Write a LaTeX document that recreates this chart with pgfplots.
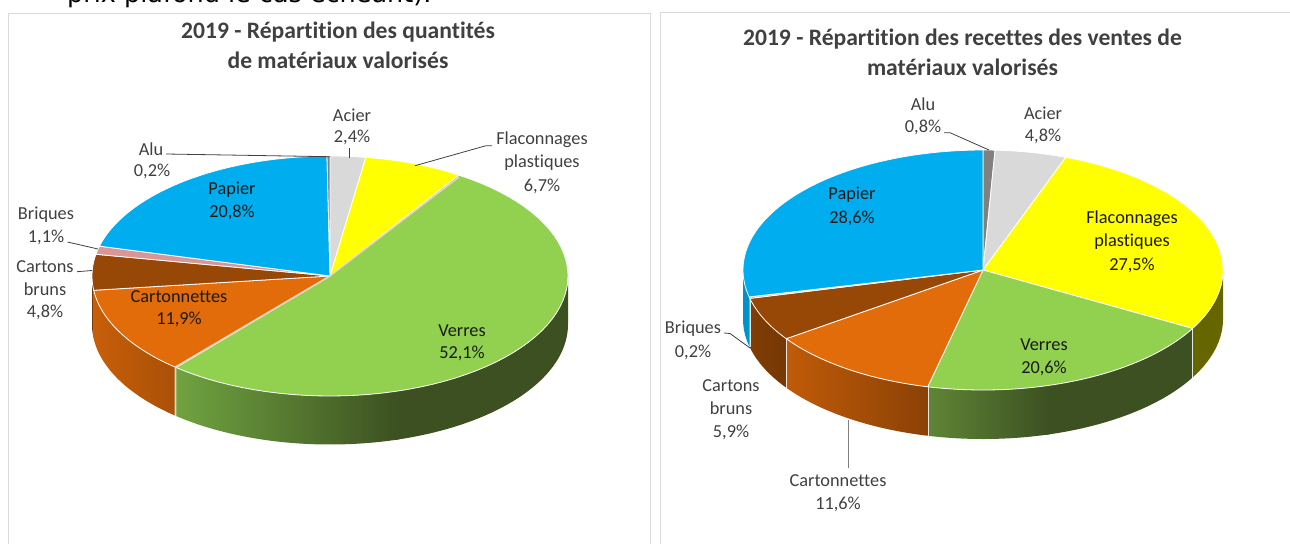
\documentclass[border=0pt]{standalone}
\usepackage{pgfplots}
\pgfplotsset{compat=1.18}
\usepackage{fontspec}
\setmainfont[Ligatures=NoCommon]{Carlito}
\newfontfamily\topfont{DejaVu Sans}
\definecolor{cPap}{HTML}{00ADEF}
\definecolor{cVer}{HTML}{92D050}
\definecolor{cFla}{HTML}{FFFF00}
\definecolor{cCto}{HTML}{E26B0A}
\definecolor{cCbr}{HTML}{974706}
\definecolor{cBri}{HTML}{D99694}
\definecolor{cAci}{HTML}{D9D9D9}
\definecolor{cAlu}{HTML}{808080}
\definecolor{cTxt}{HTML}{404040}
\definecolor{cIn}{HTML}{1A1A1A}
\definecolor{cBord}{HTML}{D9D9D9}
\definecolor{cBeige}{HTML}{E3D6BE}
\definecolor{cEdge}{HTML}{E6E6E6}
\definecolor{vDark}{HTML}{3C5021}
\definecolor{vLightA}{HTML}{70A340}
\definecolor{vLightB}{HTML}{5F8536}
% top of a slice: #1 cx, #2 cy, #3 rx, #4 ry, #5 from (cumulated %), #6 to (cumulated %), #7 colour
\newcommand\slice[7]{%
  \addplot[fill=#7,draw=white,line width=0.8pt,line join=round,domain=#5:2*#6-#5,samples=121,variable=\t]
  ({#1+(\t>#6+(#6-#5)/120?0:1)*#3*sin(3.6*\t)},{#2-(\t>#6+(#6-#5)/120?0:1)*#4*cos(3.6*\t)}) -- cycle;}
% wall of a slice: #5 depth, #6 from, #7 to, #8 style
\newcommand\wall[8]{%
  \addplot[#8,draw=none,domain=#6:2*#7-#6,samples=121,variable=\t]
  ({#1+#3*sin(3.6*(\t>#7+(#7-#6)/120?#6+(2*#7-\t-#6)*60/59:\t))},
   {#2-#4*cos(3.6*(\t>#7+(#7-#6)/120?#6+(2*#7-\t-#6)*60/59:\t))+(\t>#7+(#7-#6)/120?#5:0)}) -- cycle;}
\newcommand\lab[4][cTxt]{\node[text=#1,anchor=center,inner sep=0pt,font=\fontsize{18.3}{22}\selectfont] at (axis cs:#2,#3) {#4};}
\begin{document}
\begin{tikzpicture}
\path[use as bounding box,clip] (0,0) rectangle (1290pt,544pt);
\begin{axis}[anchor=south west,at={(0,0)},scale only axis,width=1290pt,height=544pt,
  xmin=0,xmax=1290,ymin=0,ymax=544,y dir=reverse,axis lines=none,clip=false]
% top text
\node[anchor=base west,inner sep=0pt,text=black,font=\topfont\fontsize{25.5}{28}\selectfont] at (axis cs:67,2.5) {prix plafond le cas échéant).};
% panels
\addplot[cBord,line width=1pt] coordinates {(8,544) (8,13.5) (650.5,13.5) (650.5,544)};
\addplot[cBord,line width=1pt] coordinates {(660.5,544) (660.5,12.5) (1290,12.5)};
% ---------- left pie : cumulated shares, Acier 2.4, Flaconnages 6.7, Verres 52.1, Cartonnettes 11.9, Cartons bruns 4.8, Briques 1.1, Papier 20.8, Alu 0.2
\wall{330}{276}{238}{120}{48.5}{25}{45.6}{fill=vDark}
\wall{330}{276}{238}{120}{48.5}{45.3}{61.2}{left color=vLightA,right color=vDark}
\wall{330}{276}{238}{120}{48.5}{61.2}{73.1}{left color=cCto!88!black,right color=cCto!75!black}
\wall{330}{276}{238}{120}{48.5}{73.1}{75}{fill=cCbr!80!black}
\slice{330}{276}{238}{120}{0}{2.4}{cAci}
\slice{330}{276}{238}{120}{2.4}{9.1}{cFla}
\slice{330}{276}{238}{120}{9.1}{61.2}{cVer}
\slice{330}{276}{238}{120}{61.2}{73.1}{cCto}
\slice{330}{276}{238}{120}{73.1}{77.9}{cCbr}
\slice{330}{276}{238}{120}{77.9}{79}{cBri}
\slice{330}{276}{238}{120}{79}{99.8}{cPap}
\slice{330}{276}{238}{120}{99.8}{100}{cAlu}
\addplot[cBeige,line width=1.6pt] coordinates {(330,276) (175.5,367) (175.5,416)};
\addplot[cBeige,line width=1.4pt] coordinates {(330,276) (459,177)};
% leaders
\addplot[cTxt,line width=0.8pt] coordinates {(166,154) (330,156.7)};
\addplot[cTxt,line width=0.8pt] coordinates {(67.5,242) (98,249)};
\addplot[cTxt,line width=0.8pt] coordinates {(77,271.7) (92,270.5)};
\addplot[cTxt,line width=0.8pt] coordinates {(349.5,148) (349.5,158)};
\addplot[cTxt,line width=0.8pt] coordinates {(492,145.7) (486,145.7) (415,165.7)};
% labels
\node[text=cTxt,align=center,inner sep=0pt,font=\bfseries\fontsize{23.6}{30}\selectfont] at (axis cs:338,45) {2019 - Répartition des quantités\\de matériaux valorisés};
\lab{151}{149}{Alu}\lab{152}{171}{0,2\%}
\lab[cIn]{232}{190}{Papier}\lab[cIn]{232}{212}{20,8\%}
\lab{46}{215}{Briques}\lab{46}{237}{1,1\%}
\lab{45}{267}{Cartons}\lab{45}{289}{bruns}\lab{45}{312}{4,8\%}
\lab{352}{115}{Acier}\lab{352}{137}{2,4\%}
\lab{542}{140}{Flaconnages}\lab{542}{163}{plastiques}\lab{542}{186}{6,7\%}
\lab[cIn]{179}{297}{Cartonnettes}\lab[cIn]{179}{319}{11,9\%}
\lab[cIn]{462}{331}{Verres}\lab[cIn]{462}{353}{52,1\%}
% ---------- right pie : cumulated shares, Alu 0.8, Acier 4.8, Flaconnages 27.5, Verres 20.6, Cartonnettes 11.6, Cartons bruns 5.9, Briques 0.2, Papier 28.6
\wall{983}{270}{240}{120}{49}{25}{33.1}{fill=cFla!40!black}
\wall{983}{270}{240}{120}{49}{33.1}{45.8}{fill=vDark}
\wall{983}{270}{240}{120}{49}{45.5}{53.7}{left color=vLightB,right color=vDark}
\wall{983}{270}{240}{120}{49}{53.7}{65.3}{left color=cCto!85!black,right color=cCbr!92!black}
\wall{983}{270}{240}{120}{49}{65.3}{71.2}{left color=cCbr!85!black,right color=cCbr!78!black}
\wall{983}{270}{240}{120}{49}{71.2}{71.4}{fill=cBri}
\wall{983}{270}{240}{120}{49}{71.4}{75}{fill=cPap!85!black}
\addplot[cEdge,line width=0.8pt] coordinates {(1192.6,328.5) (1192.6,377.5)};
\addplot[cEdge,line width=0.8pt] coordinates {(928,387) (928,436)};
\addplot[cEdge,line width=0.8pt] coordinates {(786.5,339) (786.5,388)};
\addplot[cEdge,line width=0.8pt] coordinates {(750,298.4) (750,347)};
\slice{983}{270}{240}{120}{0}{0.8}{cAlu}
\slice{983}{270}{240}{120}{0.8}{5.6}{cAci}
\slice{983}{270}{240}{120}{5.6}{33.1}{cFla}
\slice{983}{270}{240}{120}{33.1}{53.7}{cVer}
\slice{983}{270}{240}{120}{53.7}{65.3}{cCto}
\slice{983}{270}{240}{120}{65.3}{71.2}{cCbr}
\slice{983}{270}{240}{120}{71.2}{71.4}{cBri}
\slice{983}{270}{240}{120}{71.4}{100}{cPap}
% leaders
\addplot[cTxt,line width=0.8pt] coordinates {(944,132.7) (950,132.7) (989,150)};
\addplot[cTxt,line width=0.8pt] coordinates {(724,333) (730,333.5) (750,348)};
\addplot[gray,line width=0.9pt] coordinates {(848,420) (848,468)};
% labels
\node[text=cTxt,align=center,inner sep=0pt,font=\bfseries\fontsize{23.6}{30}\selectfont] at (axis cs:962.5,52) {2019 - Répartition des recettes des ventes de\\matériaux valorisés};
\lab{923}{104}{Alu}\lab{923}{127}{0,8\%}
\lab{1043}{113}{Acier}\lab{1043}{136}{4,8\%}
\lab[cIn]{852}{195}{Papier}\lab[cIn]{852}{218}{28,6\%}
\lab[cIn]{1132}{219}{Flaconnages}\lab[cIn]{1132}{242}{plastiques}\lab[cIn]{1132}{265}{27,5\%}
\lab[cIn]{1044}{345}{Verres}\lab[cIn]{1044}{368}{20,6\%}
\lab{693}{329}{Briques}\lab{693}{352}{0,2\%}
\lab{731}{386}{Cartons}\lab{731}{408}{bruns}\lab{731}{432}{5,9\%}
\lab{838}{481}{Cartonnettes}\lab{838}{504}{11,6\%}
\end{axis}
\end{tikzpicture}
\end{document}
